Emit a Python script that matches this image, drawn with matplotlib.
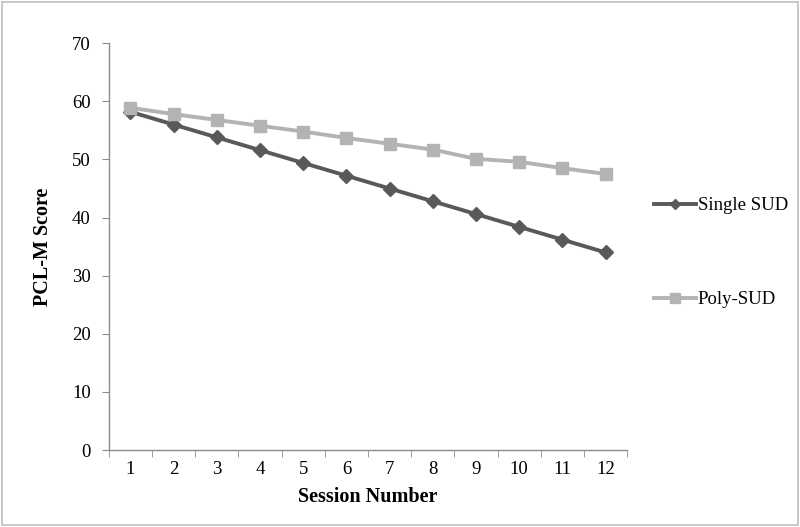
import matplotlib
matplotlib.use("Agg")
import matplotlib.pyplot as plt
from matplotlib.patches import Rectangle

sessions = list(range(1, 13))
single_sud = [58.2, 56.0, 53.8, 51.6, 49.4, 47.2, 45.0, 42.8, 40.6, 38.4, 36.2, 34.0]
poly_sud = [58.9, 57.8, 56.8, 55.8, 54.8, 53.7, 52.7, 51.7, 50.1, 49.6, 48.5, 47.5]
yticks = [0, 10, 20, 30, 40, 50, 60, 70]

plt.rcParams['font.family'] = ['Liberation Serif', 'DejaVu Serif']

fig = plt.figure(figsize=(8, 5.27), dpi=100)
ax = fig.add_axes([0.136, 0.146, 0.648, 0.772])

ax.plot(sessions, single_sud, color='#595959', lw=2.8, marker='D', ms=7,
        label='Single SUD')
ax.plot(sessions, poly_sud, color='#b3b3b3', lw=2.8, marker='s', ms=8.5,
        label='Poly-SUD')

ax.set_xlim(0.5, 12.5)
ax.set_ylim(0, 70)
ax.set_yticks(yticks)
ax.set_xticks(sessions)
ax.set_xticks([i + 0.5 for i in range(0, 13)], minor=True)
ax.tick_params(axis='x', which='major', length=0, labelsize=13.5, pad=8)
ax.tick_params(axis='x', which='minor', length=5, color='#8c8c8c', direction='out')
ax.tick_params(axis='y', length=5, color='#8c8c8c', labelsize=13.5, pad=8)

for s in ['top', 'right']:
    ax.spines[s].set_visible(False)
for s in ['left', 'bottom']:
    ax.spines[s].set_color('#8c8c8c')
    ax.spines[s].set_linewidth(1.0)

ax.set_xlabel('Session Number', fontsize=14.5, fontweight='bold', labelpad=6)
ax.set_ylabel('PCL-M Score', fontsize=14.5, fontweight='bold', labelpad=14)

ax.legend(loc='center left', bbox_to_anchor=(1.02, 0.485), frameon=False,
          fontsize=13.5, labelspacing=4.1, handlelength=2.2, handletextpad=0.1,
          markerscale=0.8)

fig.patches.append(Rectangle((0.002, 0.003), 0.996, 0.994, transform=fig.transFigure,
                             fill=False, edgecolor='#bfbfbf', lw=1.2))

fig.savefig('out.png', dpi=100)
